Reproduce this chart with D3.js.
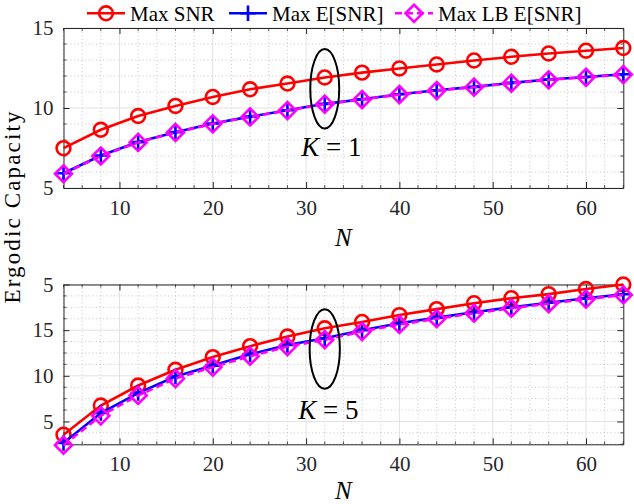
<!DOCTYPE html>
<html>
<head>
<meta charset="utf-8">
<script src="https://cdn.jsdelivr.net/npm/d3@7"></script>
<style>
  body { margin: 0; background: #fff; }
  text { font-family: "Liberation Serif", "DejaVu Serif", serif; fill: #262626; }
</style>
</head>
<body>
<svg id="chart" width="634" height="504"></svg>
<script>
// number of elements N
var nValues = [4, 8, 12, 16, 20, 24, 28, 32, 36, 40, 44, 48, 52, 56, 60, 64];

// K = 1
var maxSnrK1 = [7.49, 8.64, 9.50, 10.13, 10.69, 11.17, 11.53, 11.91, 12.21, 12.47, 12.72, 12.97, 13.20, 13.41, 13.58, 13.75];
var maxESnrK1 = [5.92, 7.03, 7.87, 8.49, 9.03, 9.46, 9.86, 10.26, 10.55, 10.86, 11.11, 11.32, 11.57, 11.78, 11.94, 12.11];
var maxLbK1 = [5.89, 7.00, 7.85, 8.47, 9.01, 9.44, 9.84, 10.24, 10.53, 10.84, 11.09, 11.30, 11.55, 11.76, 11.92, 12.09];

// K = 5
var maxSnrK5 = [3.55, 6.75, 8.94, 10.66, 12.05, 13.25, 14.30, 15.20, 15.90, 16.65, 17.30, 17.95, 18.50, 18.95, 19.50, 20.00];
var maxESnrK5 = [2.64, 5.92, 8.11, 9.92, 11.12, 12.35, 13.38, 14.12, 15.00, 15.76, 16.37, 16.96, 17.51, 18.01, 18.49, 18.93];
var maxLbK5 = [2.40, 5.62, 7.85, 9.70, 10.95, 12.15, 13.20, 13.95, 14.85, 15.62, 16.25, 16.85, 17.40, 17.90, 18.40, 18.85];

var seriesNames = ["Max SNR", "Max E[SNR]", "Max LB E[SNR]"];

var xTicks = [10, 20, 30, 40, 50, 60];
var xTickLabels = ["10", "20", "30", "40", "50", "60"];
var yTicksK1 = [5, 10, 15];
var yTickLabelsK1 = ["5", "10", "15"];
var yTicksK5 = [5, 10, 15, 20];
var yTickLabelsK5 = ["5", "10", "15", "5"];

var FONT = "'Liberation Serif', 'DejaVu Serif', serif";

var svg = d3.select("#chart");
var x = d3.scaleLinear().domain([4, 64]).range([63.5, 623.3]);
var xMinor = d3.range(4, 64.01, 2).filter(function(v) { return xTicks.indexOf(v) < 0; });

var styles = [
	{ color: "#ff0000", symbol: d3.symbolCircle, size: 150, dash: null },
	{ color: "#0000ff", symbol: d3.symbolPlus, size: 80, dash: null },
	{ color: "#ff00ff", symbol: d3.symbolDiamond2, size: 185, dash: "7,4" }
];

var panels = [
	{
		top: 28, bottom: 188, domain: [5, 15], minorStep: 1,
		yTicks: yTicksK1, yLabels: yTickLabelsK1,
		data: [maxSnrK1, maxESnrK1, maxLbK1],
		ellipse: { n: 32, v: 11.2, dn: 1.55, dv: 2.48 },
		kLabel: { n: 32.7, v: 6.97, text: "1" },
		xLabelY: 246
	},
	{
		top: 284.5, bottom: 444.3, domain: [2.5, 20], minorStep: 1.25,
		yTicks: yTicksK5, yLabels: yTickLabelsK5,
		data: [maxSnrK5, maxESnrK5, maxLbK5],
		ellipse: { n: 32, v: 12.93, dn: 1.62, dv: 4.35 },
		kLabel: { n: 32.4, v: 5.27, text: "5" },
		xLabelY: 499
	}
];

panels.forEach(function(p) {
	var y = d3.scaleLinear().domain(p.domain).range([p.bottom, p.top]);
	var yMinor = d3.range(p.domain[0], p.domain[1] + 0.01, p.minorStep)
		.filter(function(v) { return p.yTicks.indexOf(v) < 0; });
	var g = svg.append("g");

	// minor grid (dotted)
	var minor = g.append("g")
		.attr("stroke", "#b8b8b8")
		.attr("stroke-width", 0.8)
		.attr("stroke-dasharray", "1,2.6");
	minor.selectAll(".mx").data(xMinor).join("line")
		.attr("x1", function(d) { return x(d); })
		.attr("x2", function(d) { return x(d); })
		.attr("y1", p.top).attr("y2", p.bottom);
	minor.selectAll(".my").data(yMinor).join("line")
		.attr("x1", x.range()[0]).attr("x2", x.range()[1])
		.attr("y1", function(d) { return y(d); })
		.attr("y2", function(d) { return y(d); });

	// major grid
	var major = g.append("g")
		.attr("stroke", "#e2e2e2")
		.attr("stroke-width", 1);
	major.selectAll(".gx").data(xTicks).join("line")
		.attr("x1", function(d) { return x(d); })
		.attr("x2", function(d) { return x(d); })
		.attr("y1", p.top).attr("y2", p.bottom);
	major.selectAll(".gy").data(p.yTicks).join("line")
		.attr("x1", x.range()[0]).attr("x2", x.range()[1])
		.attr("y1", function(d) { return y(d); })
		.attr("y2", function(d) { return y(d); });

	// axes (ticks pointing inside, box on all four sides)
	var bottomAxis = g.append("g")
		.attr("transform", "translate(0," + p.bottom + ")")
		.call(d3.axisBottom(x).tickValues(xTicks)
			.tickFormat(function(d, i) { return xTickLabels[i]; })
			.tickSize(-6).tickSizeOuter(0).tickPadding(12));
	bottomAxis.attr("font-family", null);
	bottomAxis.selectAll("text").attr("font-size", 21).attr("fill", "#262626")
		.style("font-family", FONT);

	var leftAxis = g.append("g")
		.attr("transform", "translate(" + x.range()[0] + ",0)")
		.call(d3.axisLeft(y).tickValues(p.yTicks)
			.tickFormat(function(d, i) { return p.yLabels[i]; })
			.tickSize(-6).tickSizeOuter(0).tickPadding(10));
	leftAxis.attr("font-family", null);
	leftAxis.selectAll("text").attr("font-size", 21).attr("fill", "#262626")
		.style("font-family", FONT);

	var topAxis = g.append("g")
		.attr("transform", "translate(0," + p.top + ")")
		.call(d3.axisTop(x).tickValues(xTicks).tickFormat("").tickSize(-6).tickSizeOuter(0));
	var rightAxis = g.append("g")
		.attr("transform", "translate(" + x.range()[1] + ",0)")
		.call(d3.axisRight(y).tickValues(p.yTicks).tickFormat("").tickSize(-6).tickSizeOuter(0));

	// minor ticks
	var mt = g.append("g").attr("stroke", "#262626").attr("stroke-width", 0.8);
	mt.selectAll(".tb").data(xMinor).join("line")
		.attr("x1", function(d) { return x(d); })
		.attr("x2", function(d) { return x(d); })
		.attr("y1", p.bottom).attr("y2", p.bottom - 3);
	mt.selectAll(".tt").data(xMinor).join("line")
		.attr("x1", function(d) { return x(d); })
		.attr("x2", function(d) { return x(d); })
		.attr("y1", p.top).attr("y2", p.top + 3);
	mt.selectAll(".tl").data(yMinor).join("line")
		.attr("x1", x.range()[0]).attr("x2", x.range()[0] + 3)
		.attr("y1", function(d) { return y(d); })
		.attr("y2", function(d) { return y(d); });
	mt.selectAll(".tr").data(yMinor).join("line")
		.attr("x1", x.range()[1]).attr("x2", x.range()[1] - 3)
		.attr("y1", function(d) { return y(d); })
		.attr("y2", function(d) { return y(d); });

	[bottomAxis, leftAxis, topAxis, rightAxis].forEach(function(a) {
		a.select(".domain").attr("stroke", "#262626").attr("stroke-width", 1);
		a.selectAll(".tick line").attr("stroke", "#262626").attr("stroke-width", 1);
	});

	// data
	p.data.forEach(function(values, si) {
		var st = styles[si];
		var pts = values.map(function(v, i) { return [nValues[i], v]; });
		var line = d3.line()
			.x(function(d) { return x(d[0]); })
			.y(function(d) { return y(d[1]); });
		g.append("path")
			.datum(pts)
			.attr("d", line)
			.attr("fill", "none")
			.attr("stroke", st.color)
			.attr("stroke-width", 2.6)
			.attr("stroke-dasharray", st.dash);
		g.append("g").selectAll("path").data(pts).join("path")
			.attr("transform", function(d) { return "translate(" + x(d[0]) + "," + y(d[1]) + ")"; })
			.attr("d", d3.symbol(st.symbol, st.size))
			.attr("fill", "none")
			.attr("stroke", st.color)
			.attr("stroke-width", 2.6);
	});

	// ellipse annotation
	var e = p.ellipse;
	g.append("ellipse")
		.attr("cx", x(e.n))
		.attr("cy", y(e.v))
		.attr("rx", x(e.n + e.dn) - x(e.n))
		.attr("ry", y(e.v) - y(e.v + e.dv))
		.attr("fill", "none")
		.attr("stroke", "#000")
		.attr("stroke-width", 2);

	var kt = g.append("text")
		.attr("x", x(p.kLabel.n))
		.attr("y", y(p.kLabel.v))
		.attr("text-anchor", "middle")
		.attr("font-size", 27)
		.style("font-family", FONT)
		.style("fill", "#000");
	kt.append("tspan").attr("font-style", "italic").text("K");
	kt.append("tspan").text(" = " + p.kLabel.text);

	// x label
	g.append("text")
		.attr("x", (x.range()[0] + x.range()[1]) / 2)
		.attr("y", p.xLabelY)
		.attr("text-anchor", "middle")
		.attr("font-size", 25)
		.attr("font-style", "italic")
		.style("font-family", FONT)
		.style("fill", "#000")
		.text("N");
});

// y label
svg.append("text")
	.attr("transform", "translate(19.5,207.5) rotate(-90)")
	.attr("text-anchor", "middle")
	.attr("font-size", 23)
	.attr("textLength", 192)
	.attr("lengthAdjust", "spacing")
	.style("font-family", FONT)
	.style("fill", "#000")
	.text("Ergodic Capacity");

// legend
var legendX = [87, 229, 395];
var legend = svg.append("g");
seriesNames.forEach(function(name, i) {
	var st = styles[i];
	var lx = legendX[i];
	legend.append("line")
		.attr("x1", lx).attr("x2", lx + 38)
		.attr("y1", 13.3).attr("y2", 13.3)
		.attr("stroke", st.color)
		.attr("stroke-width", 2.6)
		.attr("stroke-dasharray", st.dash);
	legend.append("path")
		.attr("transform", "translate(" + (lx + 19) + ",13.3)")
		.attr("d", d3.symbol(st.symbol, st.size))
		.attr("fill", "none")
		.attr("stroke", st.color)
		.attr("stroke-width", 2.6);
	legend.append("text")
		.attr("x", lx + 43)
		.attr("y", 20.5)
		.attr("font-size", 21)
		.style("font-family", FONT)
		.style("fill", "#000")
		.text(name);
});
</script>
</body>
</html>
